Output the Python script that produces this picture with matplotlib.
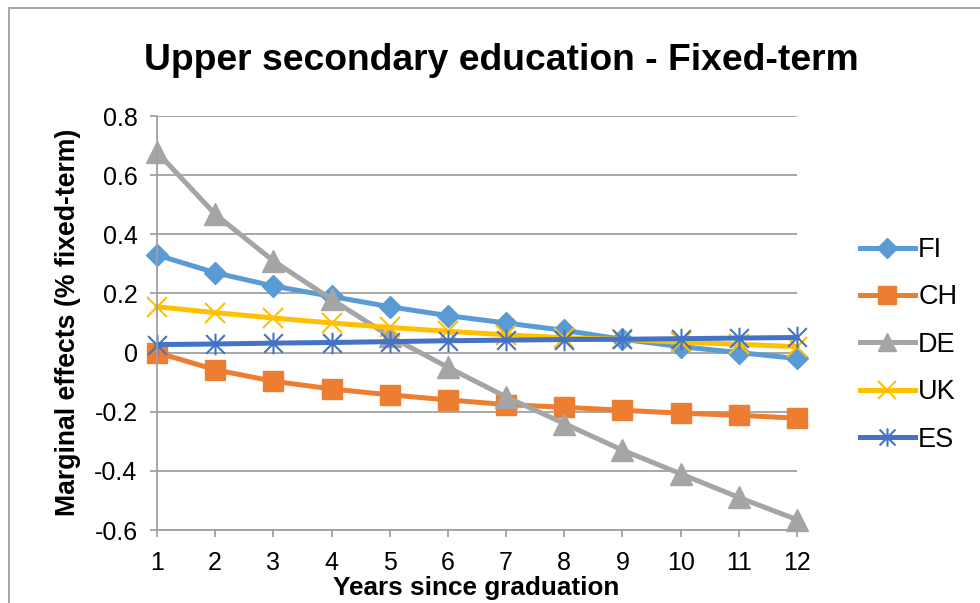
import matplotlib
matplotlib.use("Agg")
import matplotlib.pyplot as plt
from matplotlib.path import Path
from matplotlib.patches import Rectangle

years = list(range(1, 13))
series_names = ["FI", "CH", "DE", "UK", "ES"]
fi = [0.33, 0.27, 0.225, 0.19, 0.155, 0.125, 0.10, 0.075, 0.045, 0.02, 0.0, -0.02]
ch = [0.0, -0.058, -0.097, -0.123, -0.143, -0.16, -0.176, -0.185, -0.195, -0.205, -0.212, -0.222]
de = [0.678, 0.468, 0.31, 0.18, 0.055, -0.05, -0.15, -0.24, -0.33, -0.41, -0.49, -0.565]
uk = [0.155, 0.135, 0.117, 0.10, 0.085, 0.072, 0.06, 0.05, 0.045, 0.035, 0.028, 0.02]
es = [0.027, 0.029, 0.032, 0.034, 0.037, 0.04, 0.042, 0.044, 0.045, 0.047, 0.049, 0.051]
y_ticks = [-0.6, -0.4, -0.2, 0, 0.2, 0.4, 0.6, 0.8]
y_tick_labels = ["-0.6", "-0.4", "-0.2", "0", "0.2", "0.4", "0.6", "0.8"]

colors = ["#5B9BD5", "#ED7D31", "#A5A5A5", "#FFC000", "#4472C4"]

plt.rcParams['font.family'] = ['Liberation Sans', 'DejaVu Sans']

fig = plt.figure(figsize=(9.8, 6.03), dpi=100)
ax = fig.add_axes([157/980, 1-530/603, (797-157)/980, (530-116)/603])

# outer chart border
fig.patches.append(Rectangle((9/980, -0.1), 1.2, 1-8/603+0.1, transform=fig.transFigure,
                             fill=False, edgecolor="#A6A6A6", linewidth=1.4))

asterisk = Path([(-1, -1), (1, 1), (-1, 1), (1, -1), (0, -1.15), (0, 1.15)],
                [Path.MOVETO, Path.LINETO, Path.MOVETO, Path.LINETO, Path.MOVETO, Path.LINETO])

data = [fi, ch, de, uk, es]
styles = [
    dict(marker="D", markersize=11.5),
    dict(marker="s", markersize=15),
    dict(marker="^", markersize=15.5),
    dict(marker="x", markersize=14.5, markeredgewidth=1.5),
    dict(marker=asterisk, markersize=15.5, markeredgewidth=1.5, markerfacecolor="none"),
]
for name, vals, c, st in zip(series_names, data, colors, styles):
    ax.plot(years, vals, color=c, linewidth=3.6, label=name, clip_on=False,
            markeredgecolor=c, markerfacecolor=st.pop("markerfacecolor", c), **st)

ax.set_xlim(1, 12)
ax.set_ylim(-0.6, 0.8)
ax.set_xticks(years)
ax.set_yticks(y_ticks)
ax.set_yticklabels(y_tick_labels)
ax.grid(axis='y', color="#A0A0A0", linewidth=1.3)
ax.set_axisbelow(True)
for s in ["top", "right"]:
    ax.spines[s].set_visible(False)
for s in ["left", "bottom"]:
    ax.spines[s].set_color("#A0A0A0")
    ax.spines[s].set_linewidth(1.3)
ax.tick_params(axis='both', colors="#A0A0A0", labelcolor="black", labelsize=18,
               length=5, width=1.3)
ax.tick_params(axis='x', pad=10)
ax.tick_params(axis='y', pad=9)

fig.text(501/980, 1-61/603, "Upper secondary education - Fixed-term", ha="center", va="center",
         fontsize=26.8, fontweight="bold")
fig.text(476/980, 1-588/603, "Years since graduation", ha="center", va="center",
         fontsize=18.8, fontweight="bold")
fig.text(68/980, 1-322/603, "Marginal effects (% fixed-term)", ha="center", va="center",
         fontsize=19.2, fontweight="bold", rotation=90)

leg = ax.legend(loc="upper left", bbox_to_anchor=(860/980, 1-237/603), bbox_transform=fig.transFigure,
                frameon=False, fontsize=19.5, handlelength=2.03, handletextpad=0.12,
                labelspacing=0.79, borderpad=0, borderaxespad=0, markerscale=0.85)

fig.savefig("out.png", dpi=100)
